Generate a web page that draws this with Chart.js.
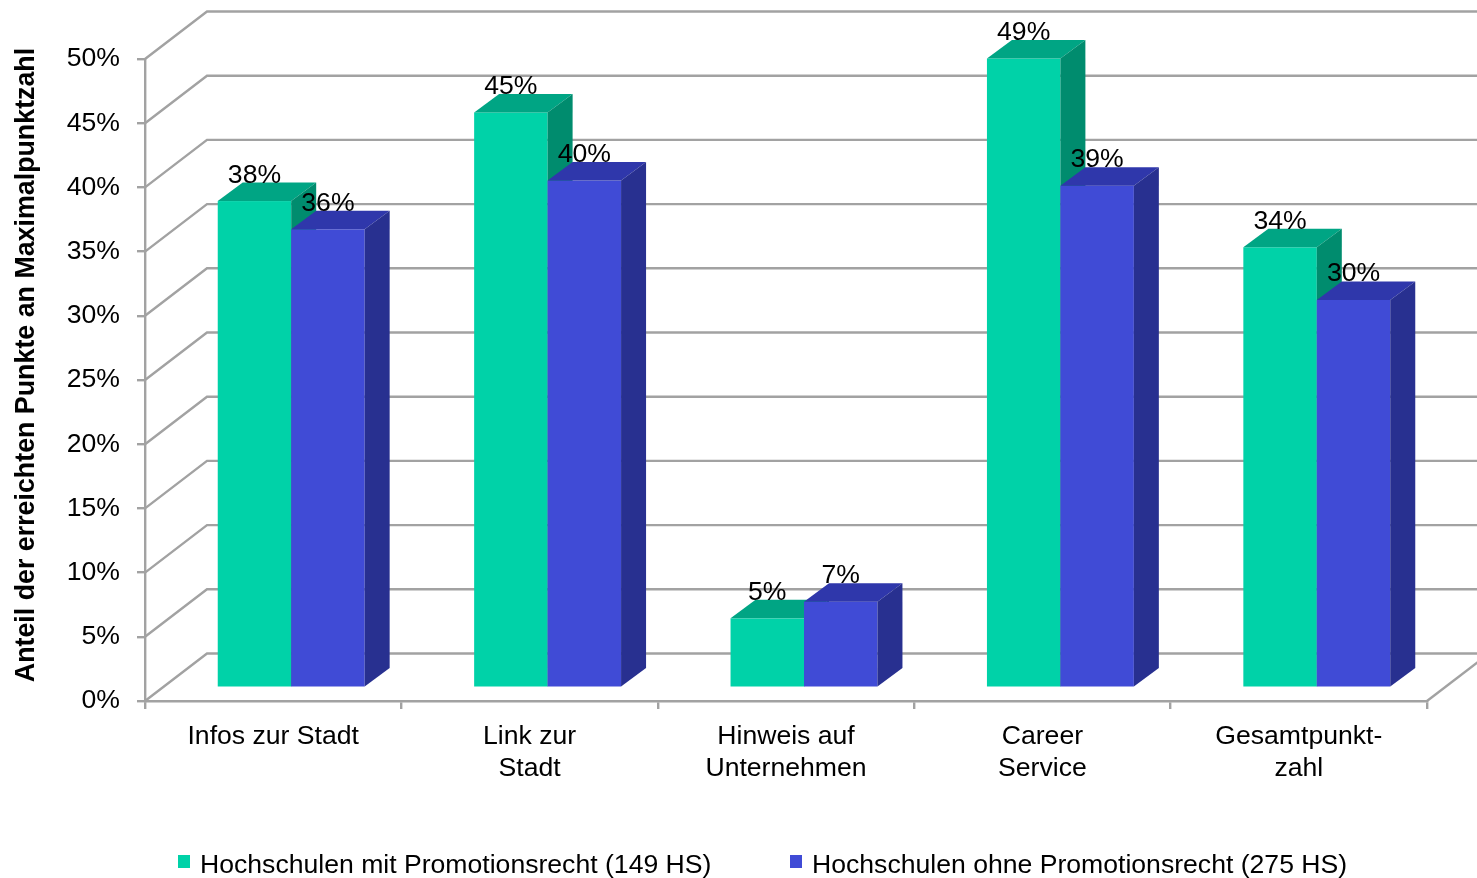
<!DOCTYPE html>
<html>
<head>
<meta charset="utf-8">
<script src="https://cdn.jsdelivr.net/npm/chart.js@4.4.1/dist/chart.umd.min.js"></script>
<style>
  html, body { margin: 0; padding: 0; background: #fff; }
  canvas { display: block; }
</style>
</head>
<body>
<canvas id="chart" width="1477" height="878"></canvas>
<script>
// ========== DATA ==========
const categories = [
  'Infos zur Stadt',
  ['Link zur', 'Stadt'],
  ['Hinweis auf', 'Unternehmen'],
  ['Career', 'Service'],
  ['Gesamtpunkt-', 'zahl']
];
const withPromotion = [37.9, 44.8, 5.4, 49.0, 34.3];
const withoutPromotion = [35.7, 39.5, 6.7, 39.1, 30.2];
const seriesNames = [
  'Hochschulen mit Promotionsrecht (149 HS)',
  'Hochschulen ohne Promotionsrecht (275 HS)'
];
const yTitle = 'Anteil der erreichten Punkte an Maximalpunktzahl';

// ========== STYLE ==========
const FONT = '"Liberation Sans", Arial, sans-serif';
const FSIZE = 26.6;
const GRID = '#A2A2A2';
const COLORS = [
  { front: '#00D2A8', top: '#00A584', side: '#008C6E' },
  { front: '#404BD6', top: '#2F37AB', side: '#283090' }
];
// 3D offsets: back wall, bar front face, bar depth
const DEPTH = { wallX: 62, wallY: -47.5, barX: 18, barY: -13.3, boxX: 25, boxY: -18.5 };

Chart.defaults.font.family = FONT;
Chart.defaults.color = '#000';

function poly(ctx, pts, color) {
  ctx.beginPath();
  ctx.moveTo(pts[0][0], pts[0][1]);
  for (let i = 1; i < pts.length; i++) ctx.lineTo(pts[i][0], pts[i][1]);
  ctx.closePath();
  ctx.fillStyle = color;
  ctx.fill();
}

// ========== 3D PLUGIN ==========
const threeD = {
  id: 'threeD',
  beforeDatasetsDraw(chart) {
    const { ctx, chartArea, scales } = chart;
    const y = scales.y;
    ctx.save();
    ctx.strokeStyle = GRID;
    ctx.lineWidth = 2.4;
    y.ticks.forEach(t => {
      const py = y.getPixelForValue(t.value);
      ctx.beginPath();
      ctx.moveTo(chartArea.left, py);
      ctx.lineTo(chartArea.left + DEPTH.wallX, py + DEPTH.wallY);
      ctx.lineTo(chart.width, py + DEPTH.wallY);
      ctx.stroke();
    });
    // right edge of the floor
    const py0 = y.getPixelForValue(0);
    ctx.beginPath();
    ctx.moveTo(chartArea.right, py0);
    ctx.lineTo(chartArea.right + DEPTH.wallX, py0 + DEPTH.wallY);
    ctx.stroke();
    ctx.restore();
  },
  afterDatasetsDraw(chart) {
    const { ctx } = chart;
    const metas = chart.data.datasets.map((d, i) => chart.getDatasetMeta(i));
    const bx = DEPTH.boxX, by = DEPTH.boxY;

    ctx.save();
    for (let j = 0; j < categories.length; j++) {
      metas.forEach((meta, i) => {
        const el = meta.data[j];
        const c = COLORS[i];
        const x0 = el.x - el.width / 2 + DEPTH.barX;
        const x1 = el.x + el.width / 2 + DEPTH.barX;
        const yt = el.y + DEPTH.barY;
        const yb = el.base + DEPTH.barY;
        ctx.fillStyle = c.front;
        ctx.fillRect(x0, yt, x1 - x0, yb - yt);
        poly(ctx, [[x0, yt], [x0 + bx, yt + by], [x1 + bx, yt + by], [x1, yt]], c.top);
        poly(ctx, [[x1, yt], [x1 + bx, yt + by], [x1 + bx, yb + by], [x1, yb]], c.side);
      });
    }

    // value labels
    ctx.fillStyle = '#000';
    ctx.font = FSIZE + 'px ' + FONT;
    ctx.textAlign = 'center';
    ctx.textBaseline = 'alphabetic';
    metas.forEach((meta, i) => {
      const values = chart.data.datasets[i].data;
      meta.data.forEach((el, j) => {
        const cx = el.x + DEPTH.barX;
        const ty = el.y + DEPTH.barY + by;
        ctx.fillText(Math.round(values[j]) + '%', cx, ty);
      });
    });
    ctx.restore();
  },
  afterDraw(chart) {
    const { ctx } = chart;
    ctx.save();
    // y axis title
    ctx.translate(27, 365);
    ctx.rotate(-Math.PI / 2);
    ctx.font = 'bold 26.8px ' + FONT;
    ctx.fillStyle = '#000';
    ctx.textAlign = 'center';
    ctx.textBaseline = 'middle';
    ctx.fillText(yTitle, 0, 0);
    ctx.restore();

    // legend
    ctx.save();
    ctx.font = FSIZE + 'px ' + FONT;
    ctx.textAlign = 'left';
    ctx.textBaseline = 'alphabetic';
    const legendX = [178, 790];
    seriesNames.forEach((name, i) => {
      ctx.fillStyle = COLORS[i].front;
      ctx.fillRect(legendX[i], 855, 12, 13);
      ctx.fillStyle = '#000';
      ctx.fillText(name, legendX[i] + 22, 873);
    });
    ctx.restore();
  }
};

// ========== CHART ==========
new Chart(document.getElementById('chart'), {
  type: 'bar',
  data: {
    labels: categories,
    datasets: [
      { label: seriesNames[0], data: withPromotion, backgroundColor: 'rgba(0,0,0,0)' },
      { label: seriesNames[1], data: withoutPromotion, backgroundColor: 'rgba(0,0,0,0)' }
    ]
  },
  options: {
    responsive: false,
    animation: false,
    categoryPercentage: 0.573,
    barPercentage: 1,
    layout: { padding: { top: 59, right: 50, left: 0, bottom: 0 } },
    plugins: {
      legend: { display: false },
      tooltip: { enabled: false }
    },
    scales: {
      x: {
        ticks: { color: '#000', font: { size: FSIZE, lineHeight: 1.2 }, padding: 12, maxRotation: 0, autoSkip: false },
        grid: { drawOnChartArea: false, tickLength: 8, color: GRID, lineWidth: 2.4 },
        border: { color: GRID, width: 2.4 },
        afterFit(scale) { scale.height = 177; }
      },
      y: {
        min: 0,
        max: 50,
        ticks: { stepSize: 5, callback: v => v + '%', color: '#000', font: { size: FSIZE }, padding: 17 },
        grid: { drawOnChartArea: false, tickLength: 8, color: GRID, lineWidth: 2.4 },
        border: { color: GRID, width: 2.4 },
        afterFit(scale) { scale.width = 145; }
      }
    }
  },
  plugins: [threeD]
});
</script>
</body>
</html>
